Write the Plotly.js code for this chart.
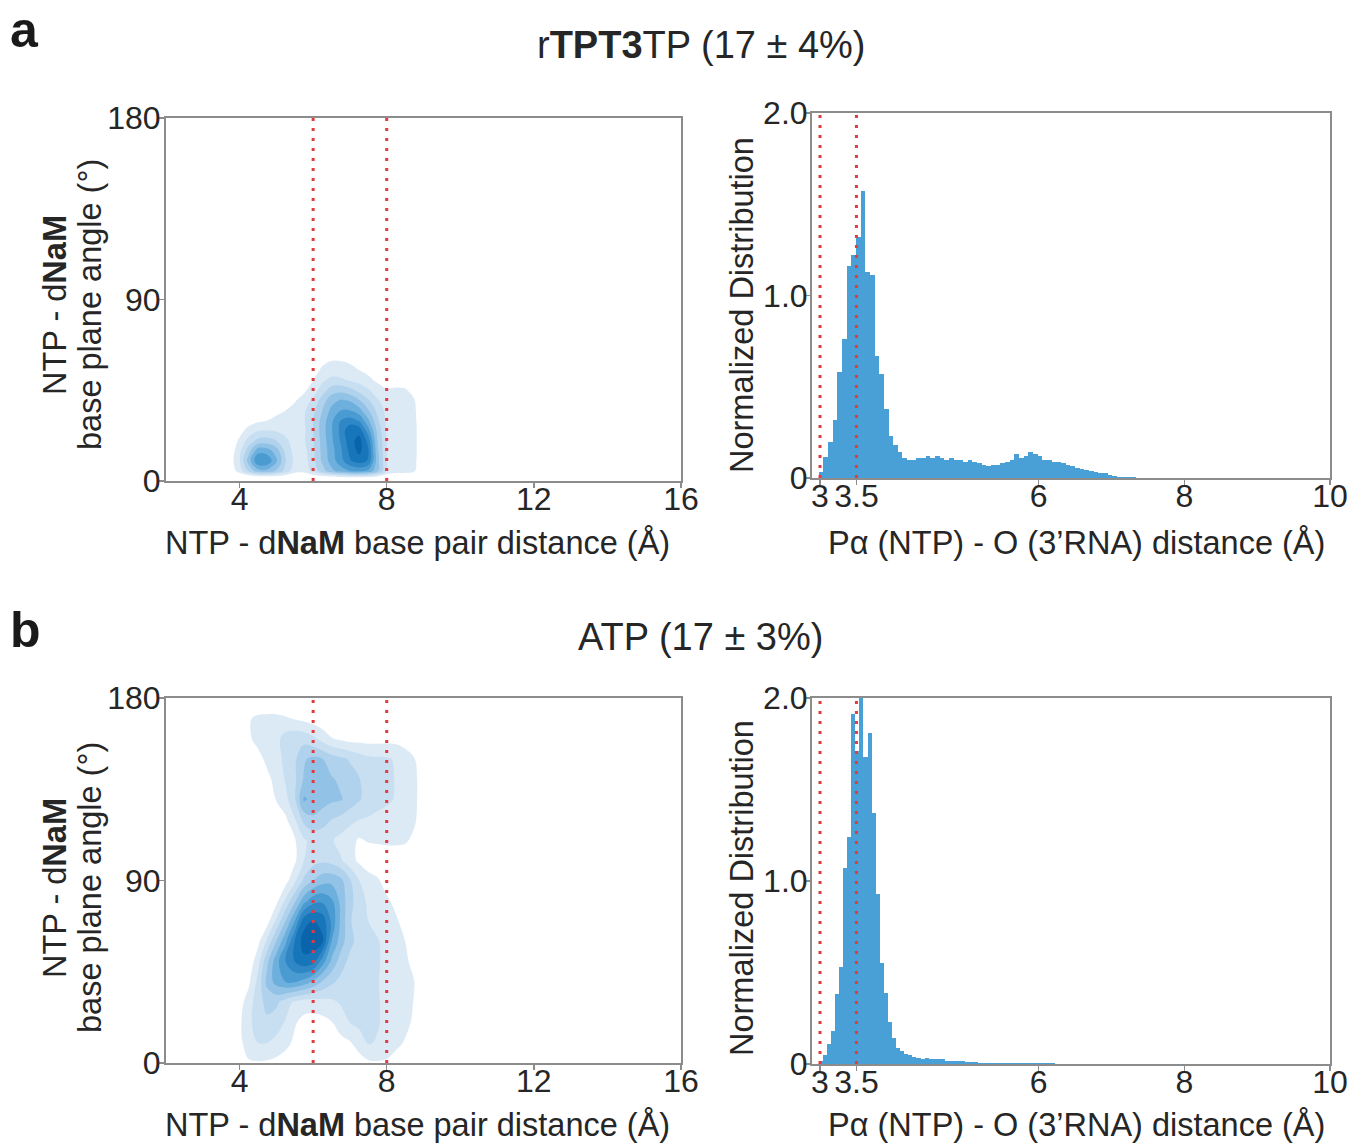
<!DOCTYPE html>
<html>
<head>
<meta charset="utf-8">
<script src="https://cdn.plot.ly/plotly-3.0.1.min.js"></script>
<style>
html,body{margin:0;padding:0;background:#fff;}
#chart{width:1349px;height:1144px;}
</style>
</head>
<body>
<div id="chart"></div>
<script>
// ---------------- DATA ----------------
// KDE density grids (values in contour-level units)
const kdeGridX = [3.5, 3.75, 4.0, 4.25, 4.5, 4.75, 5.0, 5.25, 5.5, 5.75, 6.0, 6.25, 6.5, 6.75, 7.0, 7.25, 7.5, 7.75, 8.0, 8.25, 8.5, 8.75, 9.0, 9.25];

// panel a : rTPT3TP
const kdeGridY_A = [0, 5, 10, 15, 20, 25, 30, 35, 40, 45, 50, 55, 60, 65];
const kdeZ_A = [
  [0, 0, -0.8, -1.8, -2.2, -2.2, -1.8, -1.2, -0.8, -0.6, -1.0, -1.5, -2, -2, -2, -2, -2, -1.5, -1, -0.8, -0.8, -0.5, 0, 0],
  [0, 0.4, 1.4, 3.2, 4.6, 4.7, 3.9, 2.6, 1.4, 1.3, 2.3, 3.5, 4.7, 5.5, 6.0, 6.2, 5.8, 4.2, 2.0, 1.5, 1.4, 1.1, 0.3, 0],
  [0, 0.5, 1.9, 4.5, 7.0, 6.8, 5.2, 3.1, 1.7, 1.5, 2.7, 4.2, 5.5, 6.6, 7.9, 8.5, 7.9, 4.4, 2.0, 1.6, 1.5, 1.2, 0.3, 0],
  [0, 0.4, 1.7, 3.6, 5.6, 5.5, 4.5, 2.7, 1.6, 1.6, 2.8, 4.3, 5.6, 6.8, 8.3, 9.3, 8.1, 4.2, 2.0, 1.6, 1.5, 1.25, 0.3, 0],
  [0, 0.2, 1.2, 2.4, 3.3, 3.4, 3.0, 2.2, 1.6, 1.85, 2.9, 4.4, 5.8, 7.1, 8.6, 9.4, 7.6, 4.0, 2.0, 1.6, 1.5, 1.25, 0.3, 0],
  [0, 0, 0.6, 1.4, 1.9, 2.0, 1.9, 1.7, 1.5, 1.8, 3.0, 4.5, 5.9, 7.3, 8.8, 8.6, 6.4, 3.7, 1.9, 1.6, 1.5, 1.25, 0.3, 0],
  [0, 0, 0, 0.5, 0.8, 1.0, 1.2, 1.35, 1.5, 1.9, 3.0, 4.4, 5.8, 7.0, 7.4, 6.9, 5.2, 3.2, 1.8, 1.6, 1.5, 1.2, 0.3, 0],
  [0, 0, 0, 0, 0.2, 0.4, 0.8, 1.0, 1.3, 1.85, 2.7, 4.0, 5.3, 6.0, 6.0, 5.4, 4.1, 2.7, 1.7, 1.6, 1.45, 1.15, 0.25, 0],
  [0, 0, 0, 0, 0, 0.1, 0.3, 0.6, 0.9, 1.4, 2.2, 3.5, 4.6, 5.1, 4.9, 4.1, 3.1, 2.1, 1.55, 1.5, 1.35, 1.05, 0.2, 0],
  [0, 0, 0, 0, 0, 0, 0, 0.2, 0.4, 0.8, 1.5, 2.5, 3.5, 3.7, 3.3, 2.7, 2.1, 1.5, 1.1, 1.15, 1.1, 0.7, 0, 0],
  [0, 0, 0, 0, 0, 0, 0, 0, 0, 0.3, 1.0, 1.8, 2.3, 2.2, 1.9, 1.6, 1.25, 0.8, 0.6, 0.6, 0.5, 0.2, 0, 0],
  [0, 0, 0, 0, 0, 0, 0, 0, 0, 0, 0.5, 1.2, 1.4, 1.4, 1.3, 1.0, 0.7, 0.3, 0, 0, 0, 0, 0, 0],
  [0, 0, 0, 0, 0, 0, 0, 0, 0, 0, 0, 0.7, 0.95, 0.95, 0.8, 0.5, 0.2, 0, 0, 0, 0, 0, 0, 0],
  [0, 0, 0, 0, 0, 0, 0, 0, 0, 0, 0, 0, 0, 0, 0, 0, 0, 0, 0, 0, 0, 0, 0, 0]
];

// panel b : ATP
const kdeGridY_B = [0, 10, 20, 30, 40, 50, 60, 70, 80, 90, 100, 110, 120, 130, 140, 150, 160, 170, 180];
const kdeZ_B = [
  [0, 0, 0.3, 0.85, 0.9, 0.85, 0.7, 0.5, 0.2, 0, 0, 0, 0, 0, 0.1, 0.4, 0.8, 0.9, 0.85, 0.5, 0.2, 0, 0, 0],
  [0, 0, 0.7, 1.6, 2.0, 2.0, 1.7, 1.3, 0.8, 0.4, 0.2, 0.3, 0.5, 0.7, 0.9, 1.6, 2.1, 1.9, 1.6, 1.3, 0.9, 0.3, 0, 0],
  [0, 0.1, 0.8, 1.8, 2.4, 2.8, 2.5, 1.9, 1.1, 0.7, 0.6, 0.7, 0.95, 1.5, 2.0, 2.2, 2.3, 2.1, 1.7, 1.5, 1.3, 0.8, 0.1, 0],
  [0, 0, 0.6, 1.5, 2.6, 3.3, 3.2, 2.5, 1.8, 1.5, 1.5, 1.6, 1.8, 2.1, 2.3, 2.4, 2.4, 2.1, 1.7, 1.5, 1.35, 0.95, 0.1, 0],
  [0, 0, 0, 0.8, 2.3, 4.3, 5.4, 6.0, 6.1, 5.6, 4.8, 3.9, 3.2, 2.7, 2.4, 2.3, 2.2, 2.05, 1.7, 1.5, 1.35, 1.02, 0.1, 0],
  [0, 0, 0, 0.3, 1.6, 3.8, 5.6, 7.0, 8.0, 8.7, 8.4, 6.5, 4.8, 3.5, 2.7, 2.4, 2.3, 2.1, 1.75, 1.5, 1.25, 0.6, 0, 0],
  [0, 0, 0, 0, 0.7, 2.2, 4.0, 5.8, 8.0, 9.5, 9.6, 9.2, 6.0, 4.5, 3.3, 2.6, 2.3, 2.1, 1.6, 1.4, 1.0, 0.3, 0, 0],
  [0, 0, 0, 0, 0, 0.6, 2.2, 4.0, 6.0, 8.6, 9.1, 8.6, 6.8, 4.8, 3.1, 2.5, 2.0, 1.6, 1.3, 1.15, 0.6, 0, 0, 0],
  [0, 0, 0, 0, 0, 0, 0.7, 2.2, 3.8, 5.6, 6.6, 6.8, 6.2, 4.7, 3.3, 2.5, 1.8, 1.5, 1.2, 0.7, 0.2, 0, 0, 0],
  [0, 0, 0, 0, 0, 0, 0, 0.6, 1.8, 3.2, 4.0, 4.6, 4.7, 4.3, 3.1, 2.0, 1.5, 1.15, 0.5, 0.2, 0, 0, 0, 0],
  [0, 0, 0, 0, 0, 0, 0, 0, 0.8, 2.0, 2.6, 2.8, 2.6, 2.1, 1.4, 0.8, 0.3, 0.2, 0.3, 0.2, 0.1, 0, 0, 0],
  [0, 0, 0, 0, 0, 0, 0, 0, 0.9, 1.9, 2.3, 2.3, 2.1, 1.7, 1.3, 0.9, 1.1, 1.2, 1.25, 1.3, 1.2, 0.7, 0, 0],
  [0, 0, 0, 0, 0, 0, 0, 0.8, 1.9, 3.3, 3.8, 3.5, 3.0, 2.7, 2.3, 2.0, 1.9, 1.7, 1.55, 1.5, 1.4, 1.2, 0.2, 0],
  [0, 0, 0, 0, 0, 0, 1.1, 1.7, 2.8, 5.15, 4.7, 4.4, 4.2, 4.1, 3.6, 3.1, 2.6, 2.4, 2.2, 1.9, 1.5, 1.3, 0.3, 0],
  [0, 0, 0, 0, 0, 0.7, 1.4, 2.1, 2.8, 4.1, 4.5, 4.3, 4.1, 3.8, 3.4, 3.05, 2.6, 2.4, 2.2, 1.95, 1.5, 1.3, 0.3, 0],
  [0, 0, 0, 0, 0.6, 1.3, 1.7, 2.2, 2.8, 3.9, 4.2, 4.0, 3.5, 3.2, 2.9, 2.5, 2.2, 2.15, 2.1, 1.9, 1.5, 1.05, 0, 0],
  [0, 0, 0, 0.8, 1.4, 1.5, 1.7, 2.4, 2.7, 2.6, 2.2, 1.6, 1.05, 0.8, 0.6, 0.6, 0.6, 0.6, 0.65, 0.65, 0.5, 0.2, 0, 0],
  [0, 0, 0, 0.9, 1.2, 1.25, 1.25, 1.1, 0.9, 0.7, 0.5, 0.3, 0.2, 0, 0, 0, 0, 0, 0, 0, 0, 0, 0, 0],
  [0, 0, 0, 0, 0, 0, 0, 0, 0, 0, 0, 0, 0, 0, 0, 0, 0, 0, 0, 0, 0, 0, 0, 0]
];

// Histograms: Pα(NTP) - O(3'RNA) distance, normalized distribution
const histA_binStart = 2.98;
const histA_binWidth = 0.064;
const histA_values = [
  0.035, 0.117, 0.20, 0.32, 0.58, 0.76, 1.16, 1.22, 1.32, 1.57, 1.13, 1.11, 0.67, 0.57, 0.38, 0.23, 0.18, 0.14,
  0.11, 0.10, 0.10, 0.11, 0.11, 0.12, 0.11, 0.12, 0.11, 0.10,
  0.11, 0.10, 0.10, 0.09, 0.10, 0.09, 0.08, 0.07, 0.065, 0.07,
  0.07, 0.08, 0.09, 0.10, 0.13, 0.11, 0.12, 0.14, 0.13, 0.12,
  0.10, 0.10, 0.09, 0.085, 0.08, 0.07, 0.065, 0.055, 0.05, 0.045,
  0.04, 0.035, 0.03, 0.025, 0.015, 0.012, 0.007, 0.005, 0.004, 0.003
];
const histB_binStart = 2.98;
const histB_binWidth = 0.056;
const histB_values = [
  0.015, 0.05, 0.11, 0.18, 0.38, 0.53, 1.07, 1.24, 1.91, 1.71, 2.05, 1.68, 1.81, 1.37, 0.93, 0.55, 0.39, 0.23,
  0.14, 0.09, 0.07, 0.055, 0.05, 0.04, 0.035, 0.03, 0.035, 0.03,
  0.03, 0.025, 0.025, 0.018, 0.018, 0.015, 0.015, 0.014, 0.012, 0.011,
  0.01, 0.008, 0.006, 0.005, 0.005, 0.004, 0.005, 0.004, 0.004, 0.003,
  0.004, 0.003, 0.003, 0.003, 0.004, 0.003, 0.003, 0.004, 0.006, 0.003, 0.002, 0.002
];

// reference (dotted red) lines
const refLines_pairDistance = [6, 8];
const refLines_attackDistance = [3, 3.5];

// ticks
const ticksLeftX = [4, 8, 12, 16];
const ticksLeftY = [0, 90, 180];
const ticksRightX = [3, 3.5, 6, 8, 10];
const ticksRightXText = ['3', '3.5', '6', '8', '10'];
const ticksRightY = [0, 1, 2];
const ticksRightYText = ['0', '1.0', '2.0'];

// texts
const panelTitles = ['r<b>TPT3</b>TP (17 ± 4%)', 'ATP (17 ± 3%)'];
const panelLetters = ['a', 'b'];
const xTitleLeft = 'NTP - d<b>NaM</b> base pair distance (Å)';
const yTitleLeftLines = ['NTP - d<b>NaM</b>', 'base plane angle (°)'];
const xTitleRight = 'Pα (NTP) - O (3’RNA) distance (Å)';
const yTitleRight = 'Normalized Distribution';

// ---------------- STYLE ----------------
const FONT = 'Liberation Sans, Arial, Helvetica, sans-serif';
const TXT = '#262626';
const AXC = '#8c8c8c';
const HIST_COLOR = 'rgb(72,160,214)';
const RED = 'rgb(228,58,62)';
const W = 1349, H = 1144;

const blues = [
  [0, 'rgba(255,255,255,0)'],
  [1/9, '#dceaf6'],
  [2/9, '#c8def1'],
  [3/9, '#b0d2ec'],
  [4/9, '#92c3e6'],
  [5/9, '#6eb0dd'],
  [6/9, '#4a9bd2'],
  [7/9, '#2f87c6'],
  [8/9, '#1775ba'],
  [1, '#0a64ab']
];

function kdeTrace(x, y, z, xa, ya) {
  return {
    type: 'contour', x: x, y: y, z: z, xaxis: xa, yaxis: ya,
    autocontour: false,
    contours: {start: 1, end: 9, size: 1, coloring: 'fill', showlines: false},
    line: {width: 0, smoothing: 1.1},
    colorscale: blues, showscale: false, hoverinfo: 'skip'
  };
}
function histTrace(start, w, vals, xa, ya) {
  return {
    type: 'bar', xaxis: xa, yaxis: ya,
    x: vals.map((v, i) => start + w * (i + 0.5)),
    y: vals, width: w,
    marker: {color: HIST_COLOR, line: {width: 0}},
    hoverinfo: 'skip'
  };
}

const data = [
  kdeTrace(kdeGridX, kdeGridY_A, kdeZ_A, 'x', 'y'),
  histTrace(histA_binStart, histA_binWidth, histA_values, 'x2', 'y2'),
  kdeTrace(kdeGridX, kdeGridY_B, kdeZ_B, 'x3', 'y3'),
  histTrace(histB_binStart, histB_binWidth, histB_values, 'x4', 'y4')
];

function px2fx(p) { return p / W; }
function py2fy(p) { return 1 - p / H; }

function axis(extra) {
  return Object.assign({
    showline: true, mirror: true, linecolor: AXC, linewidth: 2,
    ticks: 'outside', ticklen: 5, tickwidth: 1.5, tickcolor: AXC,
    showgrid: false, zeroline: false, automargin: false, fixedrange: true,
    tickfont: {family: FONT, size: 32, color: TXT}
  }, extra);
}

const leftDom = [px2fx(166), px2fx(681)];
const rightDom = [px2fx(812), px2fx(1330)];
const XS = -16, YSL = -8, YSR = -9;

const layout = {
  width: W, height: H,
  margin: {l: 0, r: 0, t: 0, b: 0},
  paper_bgcolor: '#fff', plot_bgcolor: '#fff',
  showlegend: false, bargap: 0,
  font: {family: FONT, color: TXT},
  xaxis: axis({domain: leftDom, range: [2, 16], tickvals: ticksLeftX, anchor: 'y', ticklabelstandoff: XS}),
  yaxis: axis({domain: [py2fy(481), py2fy(118)], range: [0, 180], tickvals: ticksLeftY, anchor: 'x', ticklabelstandoff: YSL}),
  xaxis2: axis({domain: rightDom, range: [2.89, 10], tickvals: ticksRightX, ticktext: ticksRightXText, anchor: 'y2', ticklabelstandoff: XS}),
  yaxis2: axis({domain: [py2fy(478), py2fy(113)], range: [0, 2], tickvals: ticksRightY, ticktext: ticksRightYText, anchor: 'x2', ticklabelstandoff: YSR}),
  xaxis3: axis({domain: leftDom, range: [2, 16], tickvals: ticksLeftX, anchor: 'y3', ticklabelstandoff: XS}),
  yaxis3: axis({domain: [py2fy(1063), py2fy(698)], range: [0, 180], tickvals: ticksLeftY, anchor: 'x3', ticklabelstandoff: YSL}),
  xaxis4: axis({domain: rightDom, range: [2.89, 10], tickvals: ticksRightX, ticktext: ticksRightXText, anchor: 'y4', ticklabelstandoff: XS}),
  yaxis4: axis({domain: [py2fy(1064), py2fy(698)], range: [0, 2], tickvals: ticksRightY, ticktext: ticksRightYText, anchor: 'x4', ticklabelstandoff: YSR}),
  shapes: [],
  annotations: []
};

function addRefLines(vals, xa, ya) {
  vals.forEach(v => layout.shapes.push({
    type: 'line', xref: xa, yref: ya + ' domain', x0: v, x1: v, y0: 0, y1: 1,
    line: {color: RED, width: 3, dash: '3px,7px'}, layer: 'above'
  }));
}
addRefLines(refLines_pairDistance, 'x', 'y');
addRefLines(refLines_attackDistance, 'x2', 'y2');
addRefLines(refLines_pairDistance, 'x3', 'y3');
addRefLines(refLines_attackDistance, 'x4', 'y4');

function note(text, xp, yp, size, extra) {
  layout.annotations.push(Object.assign({
    text: text, xref: 'paper', yref: 'paper', x: px2fx(xp), y: py2fy(yp),
    xanchor: 'center', yanchor: 'middle', showarrow: false,
    font: {family: FONT, size: size, color: TXT}
  }, extra || {}));
}

const titleY = [45, 637];
const letterY = [30, 630];
const xTitleY = [543, 1125];
const yTitleCenter = [305, 888];
panelTitles.forEach((t, i) => {
  note(t, 701, titleY[i], 38);
  note('<b>' + panelLetters[i] + '</b>', 8, letterY[i], 50, {xanchor: 'left', font: {family: FONT, size: 50, color: '#1a1a1a'}});
  note(xTitleLeft, 418, xTitleY[i], 32.5);
  note(xTitleRight, 1076, xTitleY[i], 32.5);
  note(yTitleLeftLines[0], 55, yTitleCenter[i], 32.5, {textangle: -90});
  note(yTitleLeftLines[1], 90, yTitleCenter[i], 32.5, {textangle: -90});
  note(yTitleRight, 742, yTitleCenter[i], 32.5, {textangle: -90});
});

Plotly.newPlot('chart', data, layout, {staticPlot: true, displayModeBar: false});
</script>
</body>
</html>
